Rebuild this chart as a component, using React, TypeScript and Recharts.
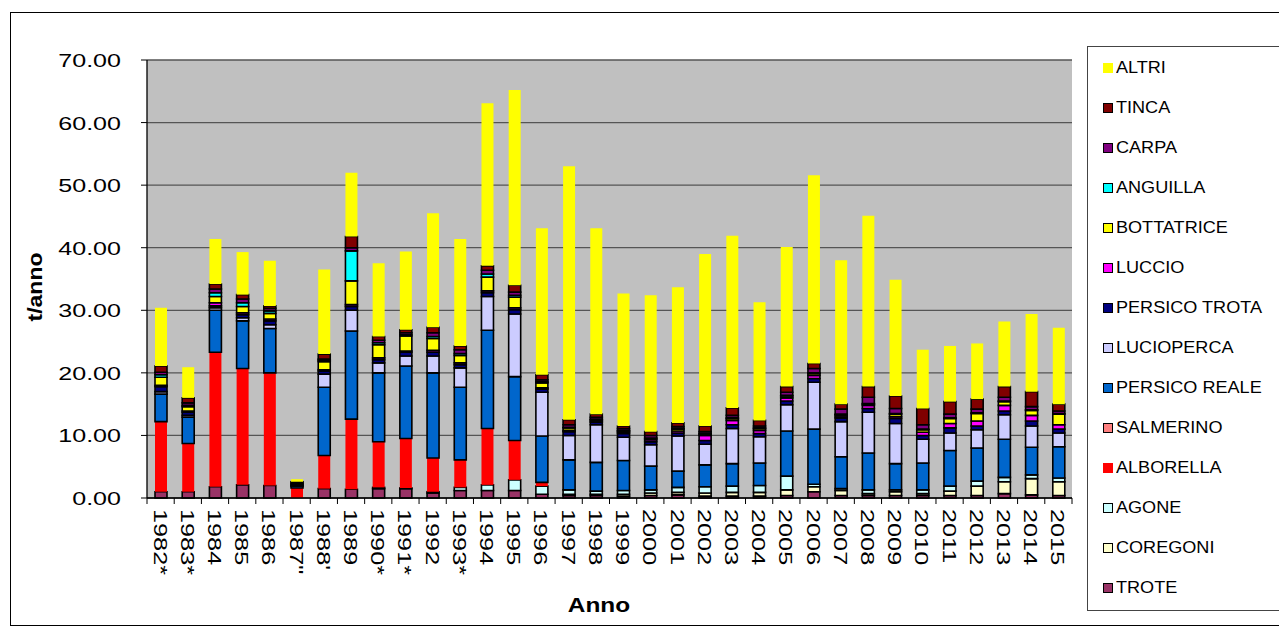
import React from "react";
import { BarChart, Bar, XAxis, YAxis, CartesianGrid } from "recharts";

// Pescato annuo per specie (t/anno)
const years = ["1982*", "1983*", "1984", "1985", "1986", "1987\"", "1988'", "1989", "1990*", "1991*", "1992", "1993*", "1994", "1995", "1996", "1997", "1998", "1999", "2000", "2001", "2002", "2003", "2004", "2005", "2006", "2007", "2008", "2009", "2010", "2011", "2012", "2013", "2014", "2015"];

const trote = [1.0, 1.0, 1.8, 2.1, 2.0, 0, 1.5, 1.4, 1.5, 1.5, 0.8, 1.2, 1.2, 1.2, 0.6, 0.4, 0.4, 0.3, 0.4, 0.5, 0.3, 0.3, 0.3, 0.4, 1.0, 0.4, 0.4, 0.4, 0.4, 0.4, 0.4, 0.7, 0.5, 0.4];
const coregoni = [0, 0, 0, 0, 0, 0, 0, 0, 0, 0, 0, 0, 0, 0, 0, 0.2, 0.2, 0.3, 0.4, 0.4, 0.5, 0.6, 0.6, 0.9, 0.8, 0.8, 0.3, 0.6, 0.3, 0.7, 1.5, 1.9, 2.6, 2.2];
const agone = [0, 0, 0, 0, 0, 0, 0, 0, 0.2, 0.1, 0.2, 0.5, 0.9, 1.7, 1.3, 0.7, 0.5, 0.6, 0.5, 0.8, 1.0, 1.0, 1.1, 2.2, 0.4, 0.3, 0.6, 0.3, 0.6, 0.8, 0.8, 0.7, 0.6, 0.6];
const alborella = [11.2, 7.7, 21.5, 18.6, 18.0, 1.6, 5.3, 11.2, 7.3, 7.9, 5.4, 4.4, 9.0, 6.3, 0.6, 0, 0, 0, 0, 0, 0, 0, 0, 0, 0, 0, 0, 0, 0, 0, 0, 0, 0, 0];
const salmerino = [0, 0, 0, 0, 0, 0, 0, 0, 0, 0, 0, 0, 0, 0, 0, 0, 0, 0, 0, 0, 0, 0, 0, 0, 0, 0, 0, 0, 0, 0, 0, 0, 0, 0];
const persicoReale = [4.4, 4.2, 6.7, 7.6, 7.1, 0.3, 10.9, 14.1, 11.0, 11.6, 13.6, 11.6, 15.7, 10.2, 7.4, 4.8, 4.6, 4.8, 3.8, 2.6, 3.5, 3.6, 3.6, 7.2, 8.8, 5.1, 5.9, 4.2, 4.3, 5.7, 5.3, 6.1, 4.4, 5.0];
const lucioperca = [0.4, 0.3, 0.4, 0.5, 0.6, 0.1, 2.1, 3.3, 1.6, 1.6, 2.7, 3.1, 5.4, 10.0, 7.0, 3.9, 6.0, 3.7, 3.4, 5.6, 3.3, 5.6, 4.2, 4.2, 7.5, 5.6, 6.5, 6.4, 3.8, 2.8, 2.9, 3.9, 3.4, 2.2];
const persicoTrota = [0.8, 0.5, 0.3, 0.5, 0.6, 0.2, 0.5, 0.6, 0.5, 0.6, 0.6, 0.5, 0.6, 0.7, 0.5, 0.6, 0.4, 0.6, 0.5, 0.5, 0.6, 0.6, 0.5, 0.6, 0.6, 0.6, 0.6, 0.8, 0.6, 0.8, 0.6, 0.6, 0.8, 0.6];
const luccio = [0.2, 0.2, 0.5, 0.3, 0.3, 0, 0.2, 0.3, 0.3, 0.2, 0.3, 0.3, 0.3, 0.3, 0.2, 0.2, 0.2, 0.2, 0.3, 0.3, 0.8, 0.7, 0.5, 0.5, 0.5, 0.3, 0.5, 0.3, 0.5, 0.7, 0.8, 0.9, 0.9, 0.7];
const bottatrice = [1.3, 0.7, 1.0, 1.0, 0.9, 0.2, 1.3, 3.8, 2.1, 2.4, 1.9, 1.2, 2.2, 1.7, 0.8, 0.4, 0.2, 0.2, 0.2, 0.3, 0.2, 0.3, 0.3, 0.3, 0.3, 0.2, 0.2, 0.4, 0.4, 0.8, 1.2, 0.6, 0.8, 1.7];
const anguilla = [0.4, 0.2, 0.6, 0.6, 0.4, 0, 0.2, 4.8, 0.3, 0.2, 0.3, 0.3, 0.5, 0.3, 0.2, 0.1, 0.1, 0.1, 0.1, 0.1, 0.1, 0.1, 0.1, 0.1, 0.1, 0.1, 0.1, 0.1, 0.1, 0.1, 0.1, 0.1, 0.1, 0.1];
const carpa = [0.4, 0.4, 0.6, 0.6, 0.4, 0, 0.2, 0.5, 0.4, 0.3, 0.6, 0.6, 0.6, 0.5, 0.3, 0.4, 0.3, 0.3, 0.4, 0.3, 0.3, 0.4, 0.3, 0.5, 0.7, 0.8, 1.0, 0.8, 0.7, 0.6, 0.6, 0.6, 0.5, 0.4];
const tinca = [1.0, 0.8, 0.8, 0.7, 0.4, 0.2, 0.8, 1.8, 0.6, 0.5, 0.9, 0.6, 0.7, 1.1, 0.8, 0.8, 0.5, 0.4, 0.6, 0.6, 0.9, 1.2, 0.9, 0.9, 0.8, 0.8, 1.7, 2.0, 2.6, 2.0, 1.6, 1.7, 2.4, 1.1];
const altri = [9.3, 4.9, 7.2, 6.8, 7.2, 0.4, 13.5, 10.2, 11.7, 12.5, 18.2, 17.1, 26.0, 31.2, 23.4, 40.5, 29.7, 21.2, 21.8, 21.7, 27.5, 27.5, 18.9, 22.3, 30.1, 23.0, 27.3, 18.6, 9.4, 8.9, 8.9, 10.4, 12.4, 12.2];

const yTicks = [0, 10, 20, 30, 40, 50, 60, 70];

// dal basso verso l'alto
const series = [
  { key: "TROTE", values: trote, color: "#993366", border: true },
  { key: "COREGONI", values: coregoni, color: "#FFFFCC", border: true },
  { key: "AGONE", values: agone, color: "#CCFFFF", border: true },
  { key: "ALBORELLA", values: alborella, color: "#FF0000", border: false },
  { key: "SALMERINO", values: salmerino, color: "#FF8080", border: true },
  { key: "PERSICO REALE", values: persicoReale, color: "#0066CC", border: true },
  { key: "LUCIOPERCA", values: lucioperca, color: "#CCCCFF", border: true },
  { key: "PERSICO TROTA", values: persicoTrota, color: "#000080", border: true },
  { key: "LUCCIO", values: luccio, color: "#FF00FF", border: true },
  { key: "BOTTATRICE", values: bottatrice, color: "#FFFF00", border: true },
  { key: "ANGUILLA", values: anguilla, color: "#00FFFF", border: true },
  { key: "CARPA", values: carpa, color: "#800080", border: true },
  { key: "TINCA", values: tinca, color: "#800000", border: true },
  { key: "ALTRI", values: altri, color: "#FFFF00", border: false },
];

const data = years.map((year, i) => {
  const row: Record<string, string | number> = { year };
  series.forEach((s) => { row[s.key] = s.values[i]; });
  return row;
});

const FONT = "'Liberation Sans', Arial, sans-serif";
const W = 1279;
const H = 623;
const PLOT_LEFT = 139;
const PLOT_RIGHT = 1064;
const PLOT_BOTTOM = 490;
const BAND = (PLOT_RIGHT - PLOT_LEFT) / years.length;

const XTick = (props: any) => {
  const { x, payload, index } = props;
  return (
    <g>
      <line x1={x - BAND / 2} x2={x - BAND / 2} y1={PLOT_BOTTOM} y2={PLOT_BOTTOM + 6} stroke="#000" />
      {index === years.length - 1 && (
        <line x1={x + BAND / 2} x2={x + BAND / 2} y1={PLOT_BOTTOM} y2={PLOT_BOTTOM + 6} stroke="#000" />
      )}
      <g transform={`translate(${x},${PLOT_BOTTOM + 11}) rotate(90)`}>
        <text transform="scale(1.33,1)" x={0} y={7} fontSize={19} fontFamily={FONT} fill="#000" textAnchor="start">
          {payload.value}
        </text>
      </g>
    </g>
  );
};

const YTick = (props: any) => {
  const { y, payload } = props;
  return (
    <g transform={`translate(113,${y}) scale(1.32,1)`}>
      <text x={0} y={7} fontSize={19} fontFamily={FONT} fill="#000" textAnchor="end">
        {Number(payload.value).toFixed(2)}
      </text>
    </g>
  );
};

const legendOrder = [...series].reverse();

export default function App() {
  return (
    <div style={{ position: "relative", width: W, height: H, fontFamily: FONT }}>
      <div style={{ position: "absolute", left: 2, top: 4, width: 1272, height: 612, border: "1px solid #000" }} />
      <div style={{ position: "absolute", left: 0, top: 0 }}>
        <BarChart width={W} height={H} data={data} margin={{ top: 52, right: W - PLOT_RIGHT, left: 0, bottom: 0 }} barSize={12}>
          <CartesianGrid vertical={false} fill="#C0C0C0" stroke="#555" strokeWidth={1.3} />
          <XAxis dataKey="year" interval={0} height={133} tickLine={false} axisLine={{ stroke: "#000", strokeWidth: 1.3 }} tick={<XTick />} />
          <YAxis domain={[0, 70]} ticks={yTicks} width={PLOT_LEFT} tickSize={6} tickLine={{ stroke: "#000" }} axisLine={{ stroke: "#000", strokeWidth: 1.3 }} tick={<YTick />} />
          <YAxis yAxisId="frame" orientation="right" domain={[0, 70]} width={0} tick={false} tickLine={false} axisLine={{ stroke: "#808080", strokeWidth: 1.3 }} />
          {series.map((s) => (
            <Bar key={s.key} dataKey={s.key} stackId="a" fill={s.color} stroke={s.border ? "#000" : "none"} strokeWidth={s.border ? 1.6 : 0} isAnimationActive={false} />
          ))}
        </BarChart>
      </div>
      <svg width={W} height={H} style={{ position: "absolute", left: 0, top: 0, pointerEvents: "none" }}>
        <g transform="translate(34,279) rotate(-90) scale(1.15,1)">
          <text x={0} y={0} textAnchor="middle" fontSize={20} fontWeight="bold" fontFamily={FONT}>t/anno</text>
        </g>
        <g transform="translate(591,604) scale(1.22,1)">
          <text x={0} y={0} textAnchor="middle" fontSize={20} fontWeight="bold" fontFamily={FONT}>Anno</text>
        </g>
      </svg>
      <div style={{ position: "absolute", left: 1079, top: 38, width: 192, height: 563, border: "1px solid #444", background: "#fff" }}>
        {legendOrder.map((s, i) => (
          <div key={s.key} style={{ position: "absolute", left: 15, top: 21 + i * 40 - 9, height: 18, display: "flex", alignItems: "center", whiteSpace: "nowrap" }}>
            <div style={{ width: s.border ? 8 : 10, height: s.border ? 8 : 10, background: s.color, border: s.border ? "1.5px solid #000" : "none", marginRight: 3 }} />
            <span style={{ fontSize: 16, color: "#000", display: "inline-block", transform: "scaleX(1.13)", transformOrigin: "left center" }}>{s.key}</span>
          </div>
        ))}
      </div>
    </div>
  );
}
